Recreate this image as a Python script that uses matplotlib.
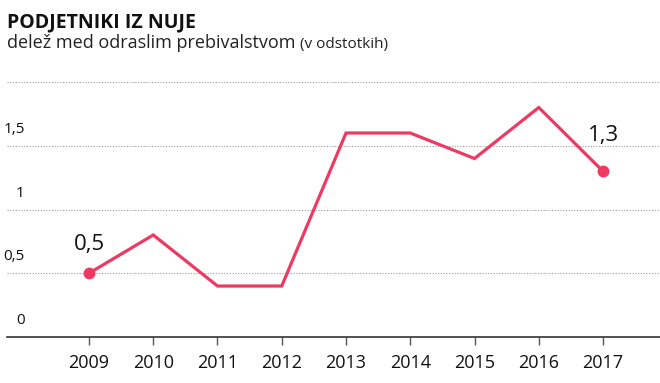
import matplotlib.pyplot as plt

years = [2009, 2010, 2011, 2012, 2013, 2014, 2015, 2016, 2017]
share = [0.5, 0.8, 0.4, 0.4, 1.6, 1.6, 1.4, 1.8, 1.3]
y_ticks = [0, 0.5, 1, 1.5, 2]
y_labels = ['0', '0,5', '1', '1,5', '']

RED = '#ee3a62'
plt.rcParams['font.family'] = ['Open Sans', 'DejaVu Sans']

fig = plt.figure(figsize=(6.6, 3.83), dpi=100)
ax = fig.add_axes([7 / 660, 1 - 337 / 383, 653 / 660, (337 - 82) / 383])

ax.plot(years, share, color=RED, linewidth=2.3, solid_joinstyle='miter', zorder=3)
ax.plot([years[0], years[-1]], [share[0], share[-1]], 'o', color=RED, markersize=7.5, zorder=4)

for yv in y_ticks[1:]:
    ax.axhline(yv, color='#999999', linestyle=(0, (1, 1.5)), linewidth=0.8, zorder=1)
for yv, lab in zip(y_ticks, y_labels):
    if lab:
        ax.text(2008.0, yv + 0.1, lab, ha='right', va='baseline', fontsize=11, color='#111111')

ax.annotate('0,5', (years[0], share[0]), xytext=(0, 17), textcoords='offset points',
            ha='center', va='baseline', fontsize=16, color='#111111')
ax.annotate('1,3', (years[-1], share[-1]), xytext=(0, 21.5), textcoords='offset points',
            ha='center', va='baseline', fontsize=16, color='#111111')

ax.set_xlim(2007.724, 2017.887)
ax.set_ylim(0, 2.0)
ax.set_xticks(years)
ax.set_xticklabels([str(y) for y in years], fontsize=13, color='#111111')
ax.tick_params(axis='x', length=6, width=1, color='#555555', pad=6)
ax.set_yticks([])
for s in ['top', 'right', 'left']:
    ax.spines[s].set_visible(False)
ax.spines['bottom'].set_color('#333333')
ax.spines['bottom'].set_linewidth(1.2)

fig.text(7 / 660, 1 - 27 / 383, 'PODJETNIKI IZ NUJE', ha='left', va='baseline',
         fontsize=14, fontweight='bold', color='#111111')
sub = fig.text(7 / 660, 1 - 48 / 383, 'delež med odraslim prebivalstvom', ha='left', va='baseline',
               fontsize=13, color='#222222')
fig.canvas.draw()
bb = sub.get_window_extent()
fig.text((bb.x1 + 5) / 660, 1 - 48 / 383, '(v odstotkih)', ha='left', va='baseline',
         fontsize=11, color='#222222')

fig.savefig('out.png', dpi=100)
